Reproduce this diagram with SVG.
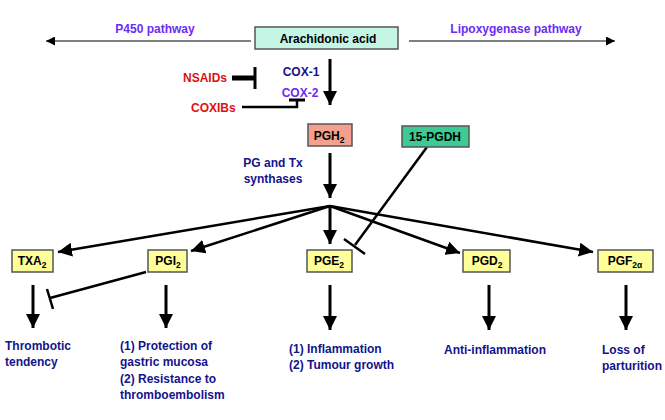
<svg xmlns="http://www.w3.org/2000/svg" width="665" height="420" viewBox="0 0 665 420">
<defs>
<style>
text{font-family:"Liberation Sans",Arial,sans-serif;font-weight:bold;font-size:12px}
.box{stroke:#555;stroke-width:1.5}
.y{fill:#ffff99}
.blk{fill:#000}
.pur{fill:#6a2cf5}
.dblue{fill:#13138c}
.red{fill:#dd1111}
.c{text-anchor:middle}
.ln{stroke:#000;fill:none}
.thin{stroke-width:1}
.thk{stroke-width:3}
.med{stroke-width:2.5}
</style>
<marker id="ahb" viewBox="0 0 10 10" refX="10" refY="5" markerWidth="14" markerHeight="14" markerUnits="userSpaceOnUse" orient="auto"><path d="M0,0 L10,5 L0,10 z" fill="#000"/></marker>
<marker id="aht" viewBox="0 0 10 10" refX="10" refY="5" markerWidth="9" markerHeight="9" markerUnits="userSpaceOnUse" orient="auto"><path d="M0,0 L10,5 L0,10 z" fill="#000"/></marker>
</defs>
<rect width="665" height="420" fill="#fff"/>

<g id="connectors">
<line class="ln thin" x1="251" y1="41" x2="46" y2="41" marker-end="url(#aht)"/>
<line class="ln thin" x1="409" y1="41" x2="615" y2="41" marker-end="url(#aht)"/>
<line class="ln thk" x1="330" y1="59" x2="330" y2="105" marker-end="url(#ahb)"/>
<line class="ln" stroke-width="5" x1="232" y1="78" x2="255" y2="78"/>
<line class="ln" stroke-width="3" x1="255" y1="67" x2="255" y2="89"/>
<polyline class="ln" stroke-width="2.5" points="242,107 297,107 297,100"/>
<line class="ln" stroke-width="3" x1="289" y1="100" x2="305" y2="100"/>
<line class="ln thk" x1="330" y1="153" x2="330" y2="198" marker-end="url(#ahb)"/>
<line class="ln med" x1="330" y1="206" x2="58" y2="252" marker-end="url(#ahb)"/>
<line class="ln med" x1="330" y1="206" x2="191" y2="251" marker-end="url(#ahb)"/>
<line class="ln thk" x1="330" y1="206" x2="330" y2="244" marker-end="url(#ahb)"/>
<line class="ln med" x1="330" y1="206" x2="460" y2="253" marker-end="url(#ahb)"/>
<line class="ln med" x1="330" y1="206" x2="593" y2="252" marker-end="url(#ahb)"/>
<line class="ln med" x1="427" y1="147" x2="355" y2="245"/>
<line class="ln med" x1="344" y1="239" x2="365" y2="254"/>
<line class="ln med" x1="146" y1="272" x2="50" y2="298"/>
<line class="ln med" x1="47" y1="289" x2="53" y2="309"/>
<line class="ln thk" x1="33" y1="285" x2="33" y2="328" marker-end="url(#ahb)"/>
<line class="ln thk" x1="166" y1="285" x2="166" y2="328" marker-end="url(#ahb)"/>
<line class="ln thk" x1="330" y1="285" x2="330" y2="330" marker-end="url(#ahb)"/>
<line class="ln thk" x1="489" y1="285" x2="489" y2="330" marker-end="url(#ahb)"/>
<line class="ln thk" x1="626" y1="285" x2="626" y2="330" marker-end="url(#ahb)"/>
</g>

<g id="labels">
<text class="pur c" x="155" y="33" font-size="12.5">P450 pathway</text>
<text class="pur c" x="516" y="33" font-size="12.5">Lipoxygenase pathway</text>
<text class="red" x="183" y="82">NSAIDs</text>
<text class="red" x="191" y="112">COXIBs</text>
<text class="dblue c" x="301" y="76">COX-1</text>
<text class="pur c" x="300" y="97">COX-2</text>
<text class="dblue c" x="273" y="167">PG and Tx</text>
<text class="dblue c" x="273" y="183">synthases</text>
</g>

<g id="arachidonic">
<rect class="box" x="255" y="27" width="143" height="22" fill="#c4f5e5"/>
<text class="blk c" x="328" y="43" font-size="12.5">Arachidonic acid</text>
</g>
<g id="pgh2">
<rect class="box" x="308" y="124" width="44" height="22" fill="#f5a08f"/>
<text class="blk c" x="329" y="140">PGH<tspan font-size="8.5" dy="3">2</tspan></text>
</g>
<g id="pgdh">
<rect class="box" x="402" y="126" width="67" height="21" fill="#3ccb95"/>
<text class="blk c" x="435" y="141">15-PGDH</text>
</g>
<g id="txa2">
<rect class="box y" x="12" y="250" width="41" height="22"/>
<text class="blk c" x="32" y="265">TXA<tspan font-size="8.5" dy="3">2</tspan></text>
</g>
<g id="pgi2">
<rect class="box y" x="148" y="250" width="39" height="22"/>
<text class="blk c" x="168" y="265">PGI<tspan font-size="8.5" dy="3">2</tspan></text>
</g>
<g id="pge2">
<rect class="box y" x="307" y="250" width="45" height="22"/>
<text class="blk c" x="329" y="265">PGE<tspan font-size="8.5" dy="3">2</tspan></text>
</g>
<g id="pgd2">
<rect class="box y" x="463" y="250" width="47" height="22"/>
<text class="blk c" x="487" y="265">PGD<tspan font-size="8.5" dy="3">2</tspan></text>
</g>
<g id="pgf2a">
<rect class="box y" x="598" y="250" width="55" height="22"/>
<text class="blk c" x="625" y="265">PGF<tspan font-size="8.5" dy="3">2α</tspan></text>
</g>

<g id="outcomes">
<text class="dblue" x="5" y="350">Thrombotic</text>
<text class="dblue" x="5" y="366">tendency</text>
<text class="dblue" x="120" y="350">(1) Protection of</text>
<text class="dblue" x="120" y="366">gastric mucosa</text>
<text class="dblue" x="120" y="383">(2) Resistance to</text>
<text class="dblue" x="120" y="399">thromboembolism</text>
<text class="dblue" x="289" y="353">(1) Inflammation</text>
<text class="dblue" x="289" y="369">(2) Tumour growth</text>
<text class="dblue" x="444" y="354">Anti-inflammation</text>
<text class="dblue" x="602" y="354">Loss of</text>
<text class="dblue" x="602" y="370">parturition</text>
</g>
</svg>
